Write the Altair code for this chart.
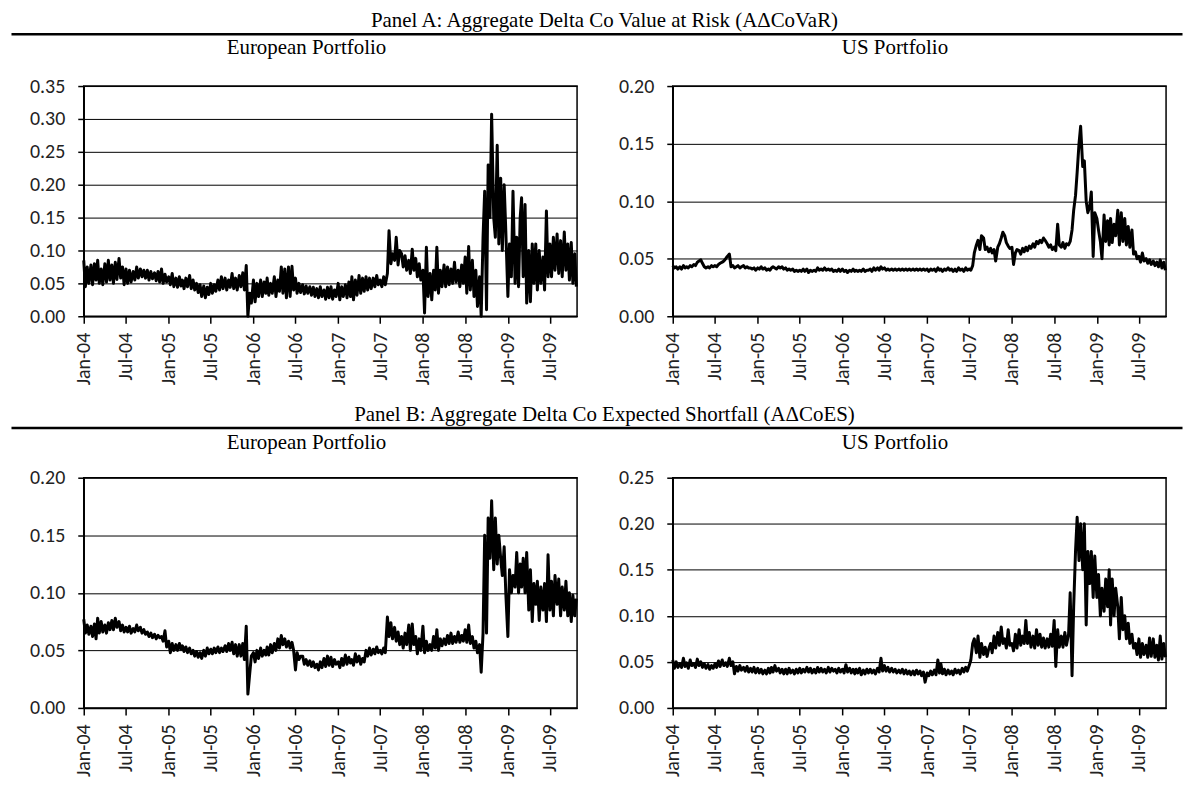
import altair as alt
import pandas as pd

# ---------------- data (4 readings per month, Jan-2004 .. Oct-2009) ----------------
MONTHS = [(y, m) for y in range(2004, 2010) for m in range(1, 13) if not (y == 2009 and m > 10)]
DAYS = [1, 8, 16, 23]
DATES = [f"{y:04d}-{m:02d}-{d:02d}" for (y, m) in MONTHS for d in DAYS]

# Panel A, European portfolio (A-Delta-CoVaR)
EU_A = [
    # 2004
    0.085, 0.045, 0.075, 0.050,  0.078, 0.048, 0.080, 0.055,  0.085, 0.050, 0.072, 0.048,
    0.080, 0.052, 0.085, 0.055,  0.078, 0.050, 0.082, 0.056,  0.088, 0.058, 0.075, 0.048,
    0.072, 0.050, 0.070, 0.052,  0.068, 0.055, 0.075, 0.058,  0.072, 0.060, 0.070, 0.058,
    0.070, 0.055, 0.068, 0.057,  0.066, 0.054, 0.068, 0.052,  0.072, 0.050, 0.064, 0.052,
    # 2005
    0.060, 0.048, 0.065, 0.045,  0.058, 0.044, 0.060, 0.046,  0.055, 0.042, 0.058, 0.045,
    0.062, 0.042, 0.055, 0.040,  0.050, 0.036, 0.048, 0.030,  0.046, 0.028, 0.044, 0.033,
    0.050, 0.035, 0.048, 0.038,  0.055, 0.040, 0.060, 0.042,  0.058, 0.040, 0.055, 0.044,
    0.065, 0.042, 0.058, 0.040,  0.062, 0.045, 0.066, 0.040,  0.077, 0.000, 0.035, 0.020,
    # 2006
    0.055, 0.022, 0.050, 0.030,  0.055, 0.030, 0.052, 0.035,  0.058, 0.032, 0.050, 0.035,
    0.060, 0.030, 0.055, 0.038,  0.075, 0.035, 0.072, 0.028,  0.075, 0.030, 0.076, 0.040,
    0.058, 0.035, 0.050, 0.036,  0.048, 0.034, 0.046, 0.035,  0.045, 0.032, 0.044, 0.030,
    0.042, 0.028, 0.045, 0.030,  0.040, 0.026, 0.044, 0.028,  0.045, 0.026, 0.040, 0.030,
    # 2007
    0.050, 0.025, 0.045, 0.030,  0.048, 0.028, 0.052, 0.030,  0.060, 0.025, 0.055, 0.032,
    0.062, 0.035, 0.058, 0.038,  0.060, 0.040, 0.058, 0.042,  0.058, 0.045, 0.062, 0.048,
    0.055, 0.045, 0.060, 0.048,  0.065, 0.130, 0.080, 0.095,  0.085, 0.120, 0.078, 0.100,
    0.095, 0.075, 0.092, 0.070,  0.085, 0.065, 0.102, 0.070,  0.088, 0.060, 0.080, 0.055,
    # 2008
    0.070, 0.005, 0.105, 0.030,  0.065, 0.025, 0.070, 0.040,  0.105, 0.035, 0.070, 0.045,
    0.078, 0.045, 0.075, 0.048,  0.072, 0.050, 0.082, 0.052,  0.070, 0.045, 0.078, 0.050,
    0.090, 0.035, 0.106, 0.040,  0.085, 0.030, 0.070, 0.015,  0.060, 0.000, 0.120, 0.190,
    0.010, 0.230, 0.150, 0.307,  0.150, 0.120, 0.260, 0.110,  0.210, 0.100, 0.200, 0.130,
    # 2009
    0.030, 0.110, 0.060, 0.190,  0.050, 0.120, 0.045, 0.150,  0.180, 0.060, 0.170, 0.020,
    0.100, 0.022, 0.110, 0.050,  0.110, 0.040, 0.100, 0.050,  0.090, 0.040, 0.160, 0.060,
    0.110, 0.060, 0.120, 0.070,  0.125, 0.065, 0.115, 0.060,  0.128, 0.070, 0.110, 0.055,
    0.112, 0.050, 0.095, 0.045,
]

# Panel A, US portfolio (A-Delta-CoVaR)
US_A = [
    # 2004
    0.044, 0.042, 0.043, 0.041,  0.043, 0.041, 0.044, 0.042,  0.043, 0.042, 0.044, 0.043,
    0.045, 0.044, 0.047, 0.048,  0.049, 0.046, 0.043, 0.042,  0.043, 0.042, 0.044, 0.043,
    0.044, 0.043, 0.045, 0.046,  0.047, 0.048, 0.050, 0.052,  0.054, 0.043, 0.044, 0.042,
    0.043, 0.044, 0.042, 0.043,  0.044, 0.042, 0.043, 0.042,  0.042, 0.041, 0.042, 0.040,
    # 2005
    0.042, 0.041, 0.043, 0.041,  0.042, 0.040, 0.041, 0.040,  0.042, 0.043, 0.042, 0.041,
    0.043, 0.042, 0.043, 0.041,  0.042, 0.040, 0.041, 0.040,  0.041, 0.039, 0.040, 0.039,
    0.040, 0.039, 0.041, 0.039,  0.041, 0.038, 0.040, 0.039,  0.040, 0.039, 0.042, 0.040,
    0.041, 0.040, 0.042, 0.040,  0.041, 0.040, 0.041, 0.039,  0.040, 0.039, 0.041, 0.039,
    # 2006
    0.041, 0.039, 0.040, 0.038,  0.040, 0.039, 0.041, 0.039,  0.040, 0.039, 0.040, 0.039,
    0.041, 0.039, 0.040, 0.040,  0.041, 0.039, 0.042, 0.040,  0.042, 0.040, 0.043, 0.041,
    0.042, 0.040, 0.041, 0.040,  0.041, 0.040, 0.041, 0.040,  0.041, 0.040, 0.041, 0.040,
    0.041, 0.040, 0.041, 0.040,  0.041, 0.040, 0.041, 0.040,  0.041, 0.040, 0.041, 0.040,
    # 2007
    0.041, 0.039, 0.041, 0.040,  0.041, 0.039, 0.042, 0.040,  0.041, 0.039, 0.041, 0.040,
    0.042, 0.040, 0.041, 0.039,  0.041, 0.039, 0.042, 0.040,  0.041, 0.039, 0.042, 0.040,
    0.041, 0.040, 0.044, 0.055,  0.062, 0.066, 0.058, 0.070,  0.068, 0.058, 0.060, 0.056,
    0.059, 0.055, 0.058, 0.048,  0.060, 0.063, 0.068, 0.073,  0.070, 0.064, 0.061, 0.059,
    # 2008
    0.060, 0.045, 0.055, 0.058,  0.057, 0.054, 0.059, 0.056,  0.060, 0.057, 0.061, 0.059,
    0.063, 0.060, 0.065, 0.063,  0.066, 0.064, 0.068, 0.066,  0.063, 0.060, 0.062, 0.058,
    0.060, 0.057, 0.080, 0.062,  0.060, 0.064, 0.059, 0.063,  0.062, 0.065, 0.075, 0.092,
    0.105, 0.125, 0.150, 0.165,  0.130, 0.135, 0.100, 0.090,  0.095, 0.108, 0.052, 0.090,
    # 2009
    0.085, 0.075, 0.065, 0.050,  0.088, 0.065, 0.083, 0.062,  0.085, 0.064, 0.080, 0.070,
    0.092, 0.062, 0.090, 0.065,  0.085, 0.062, 0.078, 0.060,  0.075, 0.054, 0.056, 0.050,
    0.052, 0.047, 0.055, 0.048,  0.050, 0.046, 0.049, 0.045,  0.048, 0.044, 0.047, 0.043,
    0.049, 0.042, 0.047, 0.040,
]

# Panel B, European portfolio (A-Delta-CoES)
EU_B = [
    # 2004
    0.077, 0.065, 0.072, 0.064,  0.071, 0.062, 0.073, 0.060,  0.078, 0.065, 0.075, 0.066,
    0.072, 0.065, 0.074, 0.068,  0.076, 0.068, 0.078, 0.070,  0.075, 0.067, 0.072, 0.066,
    0.070, 0.066, 0.071, 0.065,  0.069, 0.066, 0.072, 0.067,  0.070, 0.065, 0.068, 0.064,
    0.066, 0.062, 0.065, 0.061,  0.064, 0.060, 0.063, 0.061,  0.062, 0.058, 0.067, 0.053,
    # 2005
    0.058, 0.048, 0.056, 0.050,  0.055, 0.050, 0.056, 0.051,  0.054, 0.049, 0.053, 0.048,
    0.052, 0.047, 0.050, 0.045,  0.049, 0.044, 0.048, 0.043,  0.050, 0.045, 0.052, 0.047,
    0.051, 0.047, 0.052, 0.048,  0.053, 0.048, 0.052, 0.049,  0.054, 0.049, 0.056, 0.050,
    0.057, 0.047, 0.055, 0.045,  0.055, 0.045, 0.056, 0.042,  0.071, 0.012, 0.030, 0.045,
    # 2006
    0.048, 0.040, 0.050, 0.043,  0.052, 0.045, 0.050, 0.046,  0.053, 0.046, 0.055, 0.048,
    0.056, 0.050, 0.060, 0.052,  0.063, 0.055, 0.060, 0.053,  0.058, 0.052, 0.057, 0.050,
    0.033, 0.048, 0.042, 0.045,  0.045, 0.038, 0.042, 0.037,  0.041, 0.036, 0.040, 0.035,
    0.038, 0.033, 0.040, 0.035,  0.043, 0.036, 0.045, 0.037,  0.044, 0.036, 0.042, 0.038,
    # 2007
    0.040, 0.035, 0.043, 0.037,  0.046, 0.038, 0.044, 0.039,  0.042, 0.037, 0.047, 0.040,
    0.045, 0.038, 0.043, 0.040,  0.050, 0.045, 0.052, 0.046,  0.051, 0.047, 0.053, 0.048,
    0.050, 0.047, 0.052, 0.048,  0.079, 0.062, 0.074, 0.060,  0.070, 0.058, 0.066, 0.055,
    0.062, 0.052, 0.065, 0.055,  0.072, 0.050, 0.073, 0.055,  0.062, 0.047, 0.060, 0.050,
    # 2008
    0.071, 0.048, 0.058, 0.050,  0.055, 0.050, 0.062, 0.052,  0.068, 0.050, 0.060, 0.054,
    0.060, 0.055, 0.063, 0.056,  0.065, 0.056, 0.062, 0.057,  0.066, 0.057, 0.063, 0.058,
    0.068, 0.057, 0.072, 0.056,  0.062, 0.052, 0.058, 0.048,  0.055, 0.031, 0.065, 0.150,
    0.065, 0.165, 0.130, 0.180,  0.120, 0.165, 0.125, 0.150,  0.130, 0.115, 0.140, 0.100,
    # 2009
    0.062, 0.120, 0.100, 0.115,  0.105, 0.135, 0.100, 0.125,  0.105, 0.130, 0.100, 0.135,
    0.085, 0.120, 0.075, 0.108,  0.090, 0.110, 0.076, 0.105,  0.085, 0.108, 0.075, 0.133,
    0.085, 0.110, 0.080, 0.115,  0.090, 0.112, 0.080, 0.105,  0.085, 0.110, 0.080, 0.100,
    0.075, 0.098, 0.080, 0.095,
]

# Panel B, US portfolio (A-Delta-CoES)
US_B = [
    # 2004
    0.052, 0.043, 0.050, 0.044,  0.048, 0.044, 0.054, 0.045,  0.049, 0.043, 0.052, 0.046,
    0.048, 0.044, 0.053, 0.046,  0.050, 0.044, 0.048, 0.043,  0.047, 0.042, 0.046, 0.043,
    0.048, 0.044, 0.051, 0.045,  0.052, 0.046, 0.049, 0.045,  0.054, 0.046, 0.050, 0.037,
    0.045, 0.040, 0.046, 0.041,  0.044, 0.040, 0.045, 0.039,  0.043, 0.039, 0.044, 0.038,
    # 2005
    0.043, 0.038, 0.042, 0.037,  0.041, 0.037, 0.043, 0.038,  0.044, 0.039, 0.046, 0.040,
    0.043, 0.038, 0.042, 0.037,  0.042, 0.037, 0.043, 0.038,  0.041, 0.037, 0.042, 0.038,
    0.043, 0.038, 0.042, 0.039,  0.044, 0.039, 0.043, 0.038,  0.042, 0.038, 0.044, 0.039,
    0.043, 0.039, 0.042, 0.038,  0.044, 0.039, 0.043, 0.040,  0.042, 0.038, 0.043, 0.039,
    # 2006
    0.042, 0.038, 0.047, 0.039,  0.043, 0.038, 0.042, 0.037,  0.042, 0.038, 0.043, 0.036,
    0.041, 0.037, 0.042, 0.038,  0.042, 0.038, 0.041, 0.037,  0.043, 0.039, 0.054, 0.040,
    0.046, 0.040, 0.044, 0.039,  0.043, 0.039, 0.042, 0.038,  0.041, 0.038, 0.042, 0.037,
    0.041, 0.037, 0.040, 0.036,  0.040, 0.036, 0.041, 0.037,  0.040, 0.035, 0.039, 0.028,
    # 2007
    0.038, 0.035, 0.040, 0.036,  0.041, 0.036, 0.052, 0.038,  0.048, 0.037, 0.042, 0.036,
    0.041, 0.037, 0.040, 0.036,  0.042, 0.038, 0.041, 0.037,  0.043, 0.039, 0.044, 0.040,
    0.046, 0.052, 0.070, 0.075,  0.060, 0.078, 0.055, 0.070,  0.058, 0.066, 0.056, 0.064,
    0.070, 0.060, 0.078, 0.065,  0.082, 0.068, 0.088, 0.070,  0.075, 0.065, 0.085, 0.068,
    # 2008
    0.070, 0.062, 0.080, 0.065,  0.085, 0.068, 0.078, 0.070,  0.095, 0.070, 0.082, 0.066,
    0.078, 0.065, 0.085, 0.068,  0.080, 0.066, 0.076, 0.065,  0.075, 0.066, 0.080, 0.067,
    0.095, 0.045, 0.085, 0.066,  0.078, 0.066, 0.082, 0.068,  0.080, 0.125, 0.035, 0.110,
    0.170, 0.207, 0.160, 0.200,  0.150, 0.200, 0.090, 0.170,  0.135, 0.170, 0.120, 0.165,
    # 2009
    0.120, 0.145, 0.100, 0.130,  0.105, 0.140, 0.110, 0.150,  0.090, 0.140, 0.100, 0.130,
    0.110, 0.075, 0.120, 0.085,  0.100, 0.075, 0.092, 0.070,  0.080, 0.065, 0.070, 0.058,
    0.075, 0.055, 0.070, 0.058,  0.068, 0.055, 0.076, 0.056,  0.075, 0.055, 0.068, 0.052,
    0.078, 0.053, 0.070, 0.055,
]

X_TICKS = [(y, m) for y in range(2004, 2010) for m in (1, 7)]
Y_TICKS = [0.00, 0.05, 0.10, 0.15, 0.20, 0.25, 0.30, 0.35]

TITLE_A = "Panel A: Aggregate Delta Co Value at Risk (A\u0394CoVaR)"
TITLE_B = "Panel B: Aggregate Delta Co Expected Shortfall (A\u0394CoES)"
SUB_EU = "European Portfolio"
SUB_US = "US Portfolio"

# ---------------- styling ----------------
SERIF = "Liberation Serif"
SANS = "Carlito, Calibri, Open Sans, sans-serif"
W, H = 495, 231

ONE = pd.DataFrame({"k": [0]})


def text_layer(txt, x, y):
    return alt.Chart(ONE).mark_text(
        font=SERIF, fontSize=21, color="black", align="center", baseline="alphabetic"
    ).encode(x=alt.value(x), y=alt.value(y), text=alt.value(txt))


def rule_layer(x1, x2, y):
    return alt.Chart(ONE).mark_rule(color="black", strokeWidth=2.5).encode(
        x=alt.value(x1), x2=alt.value(x2), y=alt.value(y)
    )


def panel(values, ymax, extra):
    df = pd.DataFrame({"date": DATES, "value": values})
    x = alt.X(
        "date:T",
        title=None,
        scale=alt.Scale(
            type="utc",
            domain=[alt.DateTime(year=2004, month=1, date=1, utc=True),
                    alt.DateTime(year=2009, month=10, date=26, utc=True)],
        ),
        axis=alt.Axis(
            values=[alt.DateTime(year=y, month=m, date=1, utc=True) for (y, m) in X_TICKS],
            labelExpr="utcFormat(datum.value, '%b-%y')", labelAngle=-90,
            labelOverlap=False, labelFlush=False, grid=False,
            labelPadding=9, tickSize=7,
        ),
    )
    y = alt.Y(
        "value:Q",
        title=None,
        scale=alt.Scale(domain=[0, ymax], nice=False, zero=True),
        axis=alt.Axis(
            values=[v for v in Y_TICKS if v <= ymax + 1e-9], format=".2f",
            grid=True, labelPadding=13, tickSize=6,
        ),
    )
    line = alt.Chart(df).mark_line(color="black", strokeWidth=3, strokeJoin="round").encode(x=x, y=y)
    return alt.layer(line, *extra).properties(width=W, height=H)


# header decorations (pixel offsets relative to each panel's plot area)
euA = panel(EU_A, 0.35, [
    rule_layer(-72.5, 1102.5, -52),
    text_layer(TITLE_A, 522.5, -59),
    text_layer(SUB_EU, 223.5, -32),
])
usA = panel(US_A, 0.20, [text_layer(SUB_US, 223, -32)])
euB = panel(EU_B, 0.20, [
    rule_layer(-72.5, 1102.5, -50),
    text_layer(TITLE_B, 522.5, -57),
    text_layer(SUB_EU, 223.5, -29),
])
usB = panel(US_B, 0.25, [text_layer(SUB_US, 223, -29)])

chart = (
    alt.concat(euA, usA, euB, usB, columns=2, spacing={"row": 162, "column": 96}, bounds="flush")
    .properties(padding={"left": 1, "top": 0, "right": 0, "bottom": 0}, background="white")
    .configure_view(stroke="black", strokeWidth=1.5)
    .configure_axis(
        domainColor="black", domainWidth=1.5,
        tickColor="black", tickWidth=1.5,
        gridColor="black", gridWidth=1, gridOpacity=1,
        labelFont=SANS, labelFontSize=20, labelColor="#222",
    )
)

chart.save("out.html", embed_options={"renderer": "svg", "actions": False})
